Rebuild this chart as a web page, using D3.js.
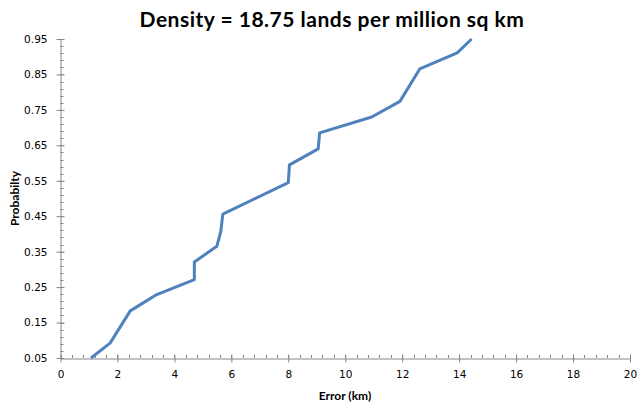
<!DOCTYPE html>
<html>
<head>
<meta charset="utf-8">
<script src="https://cdn.jsdelivr.net/npm/d3@7"></script>
<style>
  body { margin: 0; background: #fff; }
  svg { display: block; }
</style>
</head>
<body>
<svg id="chart"></svg>
<script>
// Cumulative error curve
const errorKm = [1.07, 1.74, 2.45, 3.38, 4.70, 4.70, 5.49, 5.63, 5.70, 8.00, 8.04, 9.05, 9.10, 10.93, 11.92, 12.62, 13.93, 14.44];
const probability = [0.05, 0.092, 0.183, 0.229, 0.271, 0.321, 0.365, 0.407, 0.456, 0.545, 0.595, 0.640, 0.685, 0.730, 0.774, 0.866, 0.911, 0.95];
const xTicks = [0, 2, 4, 6, 8, 10, 12, 14, 16, 18, 20];
const yTicks = [0.05, 0.15, 0.25, 0.35, 0.45, 0.55, 0.65, 0.75, 0.85, 0.95];

const width = 637, height = 407;
const margin = {top: 39, right: 7, bottom: 49, left: 60.5};

const svg = d3.select('#chart')
    .attr('width', width)
    .attr('height', height);

const x = d3.scaleLinear().domain([0, 20]).range([margin.left, width - margin.right]);
const y = d3.scaleLinear().domain([0.05, 0.95]).range([height - margin.bottom, margin.top]);

const axisColor = '#868686';

// minor ticks first, then the axes on top
const xMinor = d3.range(0, 20.001, 0.4);
const yMinor = d3.range(0.05, 0.951, 0.02);

svg.append('g')
    .selectAll('line')
    .data(xMinor)
    .enter().append('line')
    .attr('x1', d => Math.round(x(d)) + 0.5)
    .attr('x2', d => Math.round(x(d)) + 0.5)
    .attr('y1', y(0.05))
    .attr('y2', y(0.05) - 3)
    .attr('stroke', axisColor);

svg.append('g')
    .selectAll('line')
    .data(yMinor)
    .enter().append('line')
    .attr('x1', x(0))
    .attr('x2', x(0) + 3)
    .attr('y1', d => Math.round(y(d)) + 0.5)
    .attr('y2', d => Math.round(y(d)) + 0.5)
    .attr('stroke', axisColor);

const xAxis = svg.append('g')
    .attr('transform', `translate(0, ${Math.round(y(0.05)) + 0.5})`)
    .call(d3.axisBottom(x).tickValues(xTicks).tickSize(4).tickSizeOuter(0).tickPadding(8));

const yAxis = svg.append('g')
    .attr('transform', `translate(${x(0)}, 0)`)
    .call(d3.axisLeft(y).tickValues(yTicks).tickFormat(d3.format('.2f')).tickSize(4).tickSizeOuter(0).tickPadding(9));

[xAxis, yAxis].forEach(g => {
    g.select('.domain').attr('stroke', axisColor);
    g.selectAll('.tick line').attr('stroke', axisColor);
    g.selectAll('.tick text')
        .style('font-family', 'DejaVu Sans, sans-serif')
        .style('font-size', '10.5px')
        .attr('fill', '#000');
});
// major ticks cross the axis line
xAxis.selectAll('.tick line').attr('y1', -4);
yAxis.selectAll('.tick line').attr('x1', 4);

// the curve
const line = d3.line()
    .x((d, i) => x(errorKm[i]))
    .y(d => y(d));

svg.append('path')
    .datum(probability)
    .attr('d', line)
    .attr('fill', 'none')
    .attr('stroke', '#4F81BD')
    .attr('stroke-width', 3)
    .attr('stroke-linejoin', 'round');

// title and axis titles
svg.append('text')
    .attr('x', 332)
    .attr('y', 27)
    .attr('text-anchor', 'middle')
    .style('font-family', 'Lato, sans-serif')
    .style('font-weight', 'bold')
    .style('font-size', '21px')
    .style('letter-spacing', '0.5px')
    .text('Density = 18.75 lands per million sq km');

svg.append('text')
    .attr('x', 345)
    .attr('y', 400)
    .attr('text-anchor', 'middle')
    .style('font-family', 'Lato, sans-serif')
    .style('font-weight', 'bold')
    .style('font-size', '12px')
    .text('Error (km)');

svg.append('text')
    .attr('transform', `translate(19, ${(y(0.05) + y(0.95)) / 2}) rotate(-90)`)
    .attr('text-anchor', 'middle')
    .style('font-family', 'Lato, sans-serif')
    .style('font-weight', 'bold')
    .style('font-size', '12px')
    .text('Probabilty');
</script>
</body>
</html>
